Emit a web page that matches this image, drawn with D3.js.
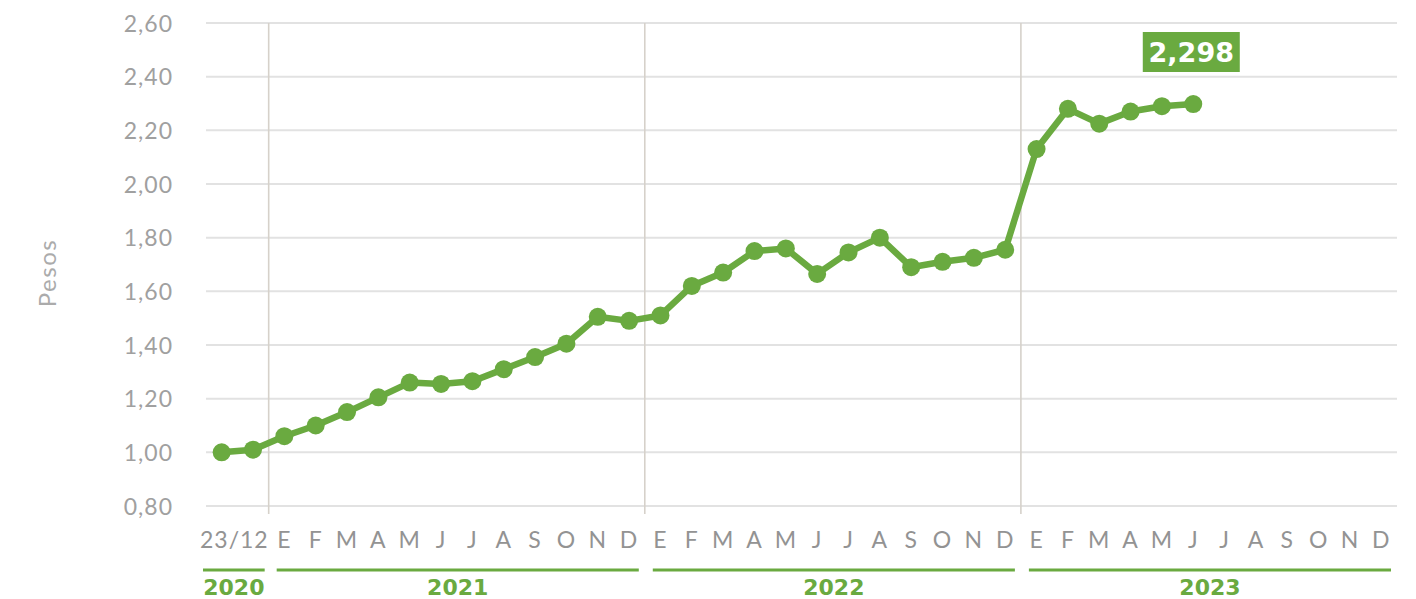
<!DOCTYPE html>
<html><head><meta charset="utf-8">
<script src="https://cdn.jsdelivr.net/npm/d3@7"></script>
<style>
html,body{margin:0;padding:0;background:#fff;}
svg{display:block;}
</style></head>
<body>
<svg id="chart" width="1416" height="599"></svg>
<script>
// ---- data ----
const slots = ["2020-12-23","2020-12-31",
  "2021-01","2021-02","2021-03","2021-04","2021-05","2021-06","2021-07","2021-08","2021-09","2021-10","2021-11","2021-12",
  "2022-01","2022-02","2022-03","2022-04","2022-05","2022-06","2022-07","2022-08","2022-09","2022-10","2022-11","2022-12",
  "2023-01","2023-02","2023-03","2023-04","2023-05","2023-06","2023-07","2023-08","2023-09","2023-10","2023-11","2023-12"];
const monthLetters = ["E","F","M","A","M","J","J","A","S","O","N","D"];
const firstLabel = "23/12";
const values = [1.00,1.01,
  1.06,1.10,1.15,1.205,1.26,1.255,1.265,1.31,1.355,1.405,1.505,1.49,
  1.51,1.62,1.67,1.75,1.76,1.665,1.745,1.80,1.69,1.71,1.725,1.755,
  2.13,2.28,2.225,2.27,2.29,2.298];
const years = ["2020","2021","2022","2023"];
const yearStart = [0,2,14,26];
const yearEnd = [2,14,26,38];
const yTicks = [0.8,1.0,1.2,1.4,1.6,1.8,2.0,2.2,2.4,2.6];
const lastLabel = "2,298";
const yTitle = "Pesos";

// ---- layout ----
const green = "#6aaa40";
const svg = d3.select("#chart");
const pLeft = 206, pRight = 1397, pTop = 23, pBottom = 506;
const x = d3.scaleBand().domain(slots).range([pLeft, pRight]).padding(0);
const bw = x.bandwidth();
const cx = s => x(s) + bw/2;
const y = d3.scaleLinear().domain([0.8, 2.6]).range([pBottom, pTop]);
const fmt = v => d3.format(".2f")(v).replace(".", ",");

// y axis labels
const yAxis = d3.axisLeft(y).tickValues(yTicks).tickSize(0).tickPadding(0).tickFormat(fmt);
const ga = svg.append("g").attr("transform", `translate(${pLeft},0)`).call(yAxis);
ga.select(".domain").remove();
ga.selectAll(".tick text").attr("x", -33).attr("dy","0.35em")
  .attr("font-family","Lato, sans-serif").attr("font-weight",400)
  .attr("font-size", 23).attr("fill","#a0a0a0").attr("letter-spacing","1");
// gridlines
svg.append("g").selectAll("line").data(yTicks).join("line")
  .attr("x1", pLeft).attr("x2", pRight).attr("y1", d=>y(d)).attr("y2", d=>y(d))
  .attr("stroke","#e2e2e2").attr("stroke-width",2);

// year dividers
svg.append("g").selectAll("line").data(yearStart.slice(1)).join("line")
  .attr("x1", d=>x(slots[d])).attr("x2", d=>x(slots[d]))
  .attr("y1", pTop).attr("y2", pBottom+8)
  .attr("stroke","#d6d1ca").attr("stroke-width",1.6);

// y title
svg.append("text").attr("transform","translate(56,273) rotate(-90)")
  .attr("text-anchor","middle").attr("font-family","Lato, sans-serif").attr("font-weight",400)
  .attr("font-size",24).attr("fill","#ababab").attr("letter-spacing","1.5").text(yTitle);

// x labels
const xLab = svg.append("g").attr("font-family","Lato, sans-serif").attr("font-weight",400)
  .attr("font-size",23).attr("fill","#939393").attr("text-anchor","middle").attr("letter-spacing","1");
xLab.append("text").attr("x", (cx(slots[0])+cx(slots[1]))/2 - 3).attr("y", 548).text(firstLabel);
xLab.selectAll("text.m").data(slots.slice(2)).join("text").attr("class","m")
  .attr("x", d=>cx(d)).attr("y", 548)
  .text((d,i)=>monthLetters[i % 12]);

// year group lines and labels
years.forEach((yr,i)=>{
  const x0 = x(slots[yearStart[i]]) + (i===0 ? -3 : 8);
  const x1 = (yearEnd[i] < slots.length ? x(slots[yearEnd[i]]) : pRight) - (i===0 ? 4 : 6);
  svg.append("line").attr("x1",x0).attr("x2",x1).attr("y1",570).attr("y2",570)
    .attr("stroke",green).attr("stroke-width",3);
  svg.append("text").attr("x",(x0+x1)/2).attr("y",595).attr("text-anchor","middle")
    .attr("font-family","DejaVu Sans, sans-serif").attr("font-weight",700)
    .attr("font-size",22).attr("fill",green).text(yr);
});

// line + points
const pts = values.map((v,i)=>({s:slots[i], v}));
svg.append("path").datum(pts)
  .attr("d", d3.line().x(d=>cx(d.s)).y(d=>y(d.v)))
  .attr("fill","none").attr("stroke",green).attr("stroke-width",6.5).attr("stroke-linejoin","round");
svg.append("g").selectAll("circle").data(pts).join("circle")
  .attr("cx", d=>cx(d.s)).attr("cy", d=>y(d.v)).attr("r",9).attr("fill",green);

// last value label
const last = pts[pts.length-1];
const lx = cx(last.s) - 2;
svg.append("rect").attr("x", lx-48.5).attr("y", 32).attr("width",97).attr("height",40).attr("fill",green);
svg.append("text").attr("x", lx).attr("y", 62).attr("text-anchor","middle")
  .attr("font-family","DejaVu Sans, sans-serif").attr("font-weight",700)
  .attr("font-size",27).attr("fill","#fff").text(lastLabel);
</script>
</body></html>
